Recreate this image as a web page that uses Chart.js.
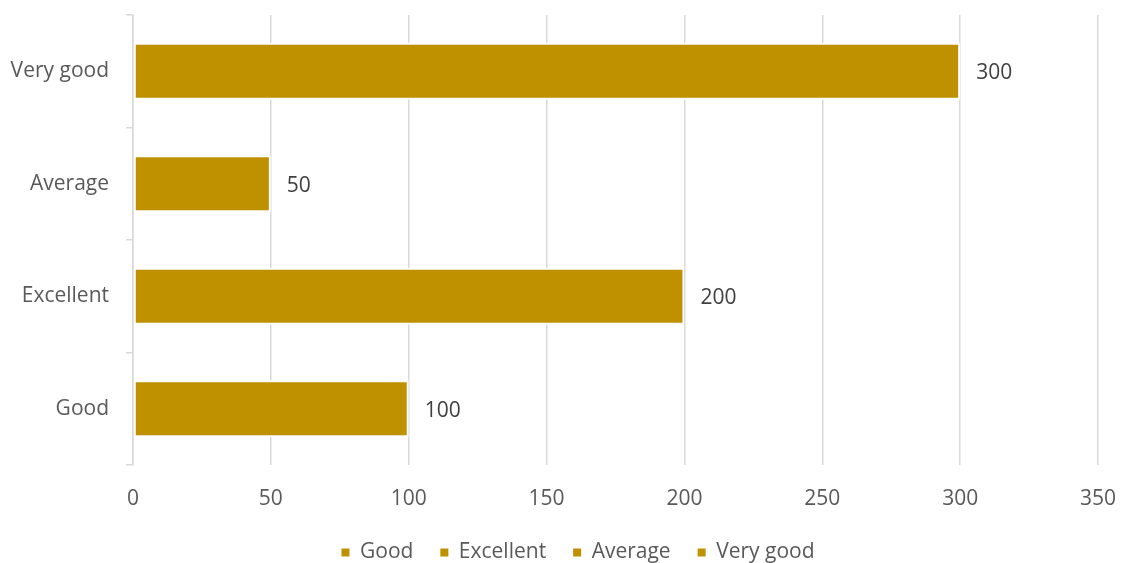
<!DOCTYPE html>
<html>
<head>
<meta charset="utf-8">
<title>Ratings</title>
<script src="https://cdn.jsdelivr.net/npm/chart.js@4.4.1/dist/chart.umd.min.js"></script>
<style>
    html, body { margin: 0; padding: 0; background: #ffffff; }
    #wrap { width: 1130px; height: 563px; }
</style>
</head>
<body>
<div id="wrap"><canvas id="ratingChart" width="1130" height="563"></canvas></div>
<script>
// --- Data ---
const categories = ['Good', 'Excellent', 'Average', 'Very good'];
const counts = [100, 200, 50, 300];
const xTicks = [0, 50, 100, 150, 200, 250, 300, 350];

const BAR_COLOR = '#BF9000';
const GRID_COLOR = '#D9D9D9';
const TEXT_COLOR = '#595959';
const FONT = { family: 'Open Sans', size: 21 };

// Value labels at the end of every bar
const valueLabels = {
    id: 'valueLabels',
    afterDatasetsDraw(chart) {
        const ctx = chart.ctx;
        const meta = chart.getDatasetMeta(0);
        ctx.save();
        ctx.font = `${FONT.size}px ${FONT.family}`;
        ctx.fillStyle = '#404040';
        ctx.textAlign = 'left';
        ctx.textBaseline = 'middle';
        meta.data.forEach((bar, i) => {
            ctx.fillText(String(counts[i]), bar.x + 16, bar.y + 2);
        });
        ctx.restore();
    }
};

// Nudge the legend a bit right, the original sits slightly off centre
const legendShift = {
    id: 'legendShift',
    afterLayout(chart) {
        if (chart.legend) {
            chart.legend.left += 29;
            chart.legend.right += 29;
        }
    }
};

const ctx = document.getElementById('ratingChart').getContext('2d');
new Chart(ctx, {
    type: 'bar',
    data: {
        labels: categories,
        datasets: [{
            label: 'Count',
            data: counts,
            backgroundColor: BAR_COLOR,
            borderColor: '#ffffff',
            borderWidth: 2,
            borderSkipped: false,
            categoryPercentage: 1,
            barPercentage: 0.505
        }]
    },
    options: {
        indexAxis: 'y',
        responsive: false,
        animation: false,
        layout: { padding: { top: 15, right: 32, left: 0, bottom: -10 } },
        scales: {
            x: {
                min: 0,
                max: 350,
                afterBuildTicks: (scale) => {
                    scale.ticks = xTicks.map(v => ({ value: v }));
                },
                afterFit: (scale) => {
                    scale.height = 50;
                    scale.paddingLeft = 0;
                    scale.paddingRight = 0;
                },
                grid: { color: GRID_COLOR, lineWidth: 1.5, drawTicks: false },
                border: { display: false },
                ticks: { color: TEXT_COLOR, font: FONT, padding: 21 }
            },
            y: {
                reverse: true,
                z: 1,
                afterFit: (scale) => {
                    scale.width = 133;
                    scale.paddingTop = 0;
                    scale.paddingBottom = 0;
                },
                grid: {
                    offset: true,
                    drawOnChartArea: false,
                    color: GRID_COLOR,
                    lineWidth: 1.5,
                    tickLength: 7
                },
                border: { color: GRID_COLOR, width: 1.5 },
                ticks: { color: TEXT_COLOR, font: FONT, padding: 17 }
            }
        },
        plugins: {
            tooltip: { enabled: false },
            legend: {
                position: 'bottom',
                onClick: null,
                labels: {
                    font: FONT,
                    color: TEXT_COLOR,
                    boxWidth: 8,
                    boxHeight: 8,
                    padding: 27,
                    // one entry per category, like the original
                    generateLabels: () => categories.map((c, i) => ({
                        text: c,
                        fillStyle: BAR_COLOR,
                        strokeStyle: BAR_COLOR,
                        lineWidth: 0,
                        fontColor: TEXT_COLOR,
                        hidden: false,
                        index: i
                    }))
                }
            }
        }
    },
    plugins: [valueLabels, legendShift]
});
</script>
</body>
</html>
